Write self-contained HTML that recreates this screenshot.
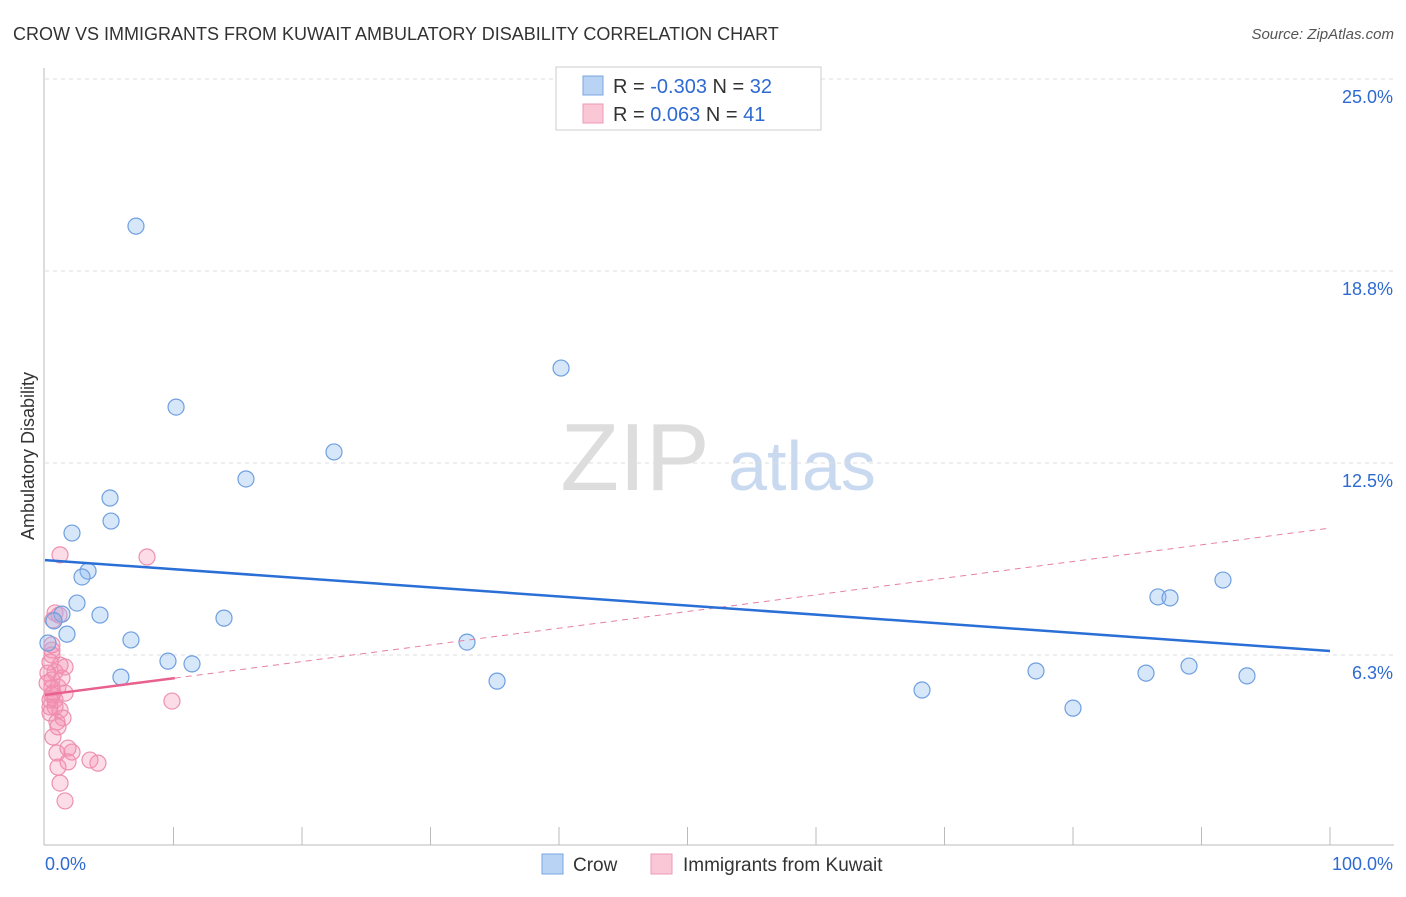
<!DOCTYPE html>
<html><head><meta charset="utf-8"><style>
body{margin:0;background:#fff;font-family:"Liberation Sans",sans-serif}
svg text{font-family:"Liberation Sans",sans-serif}
</style></head><body>
<svg id="c" width="1406" height="892" xmlns="http://www.w3.org/2000/svg">
<text x="13" y="40" font-size="18" fill="#333">CROW VS IMMIGRANTS FROM KUWAIT AMBULATORY DISABILITY CORRELATION CHART</text>
<text x="1394" y="39" font-size="15" fill="#555" text-anchor="end" font-style="italic">Source: ZipAtlas.com</text>
<text transform="translate(34,456) rotate(-90)" font-size="18" fill="#333" text-anchor="middle">Ambulatory Disability</text>
<g>
<text x="635" y="490" font-size="96" font-family="Liberation Serif" fill="#ddd" text-anchor="middle">ZIP</text>
<text x="802" y="490" font-size="70" fill="#c9d9f0" text-anchor="middle">atlas</text>
</g>
<g id="grid"></g><g id="marks"></g>
<g>
<rect x="556" y="67" width="265" height="63" fill="#fff" stroke="#ccc"/>
<rect x="583" y="76" width="20" height="19" fill="#b9d3f5" stroke="#7aa6e0"/>
<rect x="583" y="104" width="20" height="19" fill="#f9c7d6" stroke="#ee9ab5"/>
<text x="613" y="93" font-size="20" fill="#333">R = <tspan fill="#2e6ad1">-0.303</tspan>   N = <tspan fill="#2e6ad1">32</tspan></text>
<text x="613" y="121" font-size="20" fill="#333">R =  <tspan fill="#2e6ad1"> 0.063</tspan>   N =  <tspan fill="#2e6ad1">41</tspan></text>
</g>
<g>
<rect x="542" y="854" width="21" height="20" fill="#b9d3f5" stroke="#7aa6e0"/>
<text x="573" y="871" font-size="19" fill="#333">Crow</text>
<rect x="651" y="854" width="21" height="20" fill="#f9c7d6" stroke="#ee9ab5"/>
<text x="683" y="871" font-size="19" fill="#333">Immigrants from Kuwait</text>
</g>
</svg>
<script>
const crowX=[7.08,10.2,40.16,22.49,15.64,5.06,5.14,2.1,3.35,2.88,2.49,4.28,1.32,0.7,1.71,0.23,6.69,13.93,9.57,11.44,5.91,32.84,35.18,68.25,77.12,80.0,85.68,89.03,93.54,86.61,87.55,91.67];
const crowY=[20.21,14.32,15.59,12.86,11.98,11.36,10.61,10.22,8.98,8.79,7.94,7.55,7.58,7.36,6.93,6.64,6.74,7.45,6.05,5.96,5.53,6.67,5.4,5.11,5.73,4.52,5.66,5.89,5.57,8.14,8.11,8.69];
const kuwX=[1.17,7.94,0.78,1.09,0.62,0.54,0.54,1.17,1.56,0.78,1.32,0.54,0.54,1.01,1.56,0.54,0.78,0.39,1.17,1.4,0.93,1.01,0.62,0.93,1.79,2.1,1.79,1.01,3.5,4.12,1.17,1.56,9.88,0.39,0.23,0.62,0.39,0.16,0.78,0.39,0.54];
const kuwY=[9.51,9.44,7.62,7.55,7.39,6.41,6.25,5.92,5.86,5.7,5.5,5.44,5.18,5.21,5.01,4.95,4.79,4.56,4.46,4.2,4.07,3.91,3.58,3.06,3.22,3.09,2.77,2.6,2.83,2.73,2.08,1.5,4.75,6.02,5.66,5.01,4.79,5.34,4.56,4.36,6.58];
const yTicks=[6.25,12.5,18.75,25];
const yTickLabels=["6.3%","12.5%","18.8%","25.0%"];
const crowTrend=[9.34,6.38];
const kuwTrend=[4.95,10.38];
const kuwSolidEnd=10.1;
const NS="http://www.w3.org/2000/svg";
const X=v=>45+v*12.85, Y=v=>847-v*30.72;
function mk(p,t,a){const e=document.createElementNS(NS,t);for(const k in a)e.setAttribute(k,a[k]);p.appendChild(e);return e;}
const g=document.getElementById('grid'),m=document.getElementById('marks');
yTicks.forEach((t,i)=>{
 const l=mk(g,'line',{x1:45,x2:1394,y1:Y(t),y2:Y(t),stroke:'#ddd','stroke-dasharray':'4,4'});
 
 
 const tx=mk(g,'text',{x:1393,y:Y(t)+24,'font-size':18,fill:'#2e6ad1','text-anchor':'end'});tx.textContent=yTickLabels[i];
 
 
});
const ax=mk(g,'line',{x1:44,x2:44,y1:68,y2:845,stroke:'#bbb'});


const bx=mk(g,'line',{x1:44,x2:1394,y1:845,y2:845,stroke:'#bbb'});


for(let i=1;i<=10;i++){const t=mk(g,'line',{x1:X(i*10),x2:X(i*10),y1:827,y2:845,stroke:'#bbb'});
 
 }
[["0.0%",45,'start'],["100.0%",1393,'end']].forEach(a=>{const t=mk(g,'text',{x:a[1],y:870,'font-size':18,fill:'#2e6ad1','text-anchor':a[2]});t.textContent=a[0];
 
 });
kuwX.forEach((v,i)=>{const c=mk(m,'circle',{cx:X(v),cy:Y(kuwY[i]),r:8,fill:'rgba(244,143,177,0.3)',stroke:'#ee8fb0','stroke-width':1.2});
 
 });
crowX.forEach((v,i)=>{const c=mk(m,'circle',{cx:X(v),cy:Y(crowY[i]),r:8,fill:'rgba(140,185,240,0.35)',stroke:'#6f9fe0','stroke-width':1.2});
 
 });
const kd=mk(m,'line',{x1:X(kuwSolidEnd),y1:Y(kuwTrend[0]+(kuwTrend[1]-kuwTrend[0])*kuwSolidEnd/100),x2:X(100),y2:Y(kuwTrend[1]),stroke:'#e87fa3','stroke-width':1,'stroke-dasharray':'6,5'});


const ks=mk(m,'line',{x1:X(0),y1:Y(kuwTrend[0]),x2:X(kuwSolidEnd),y2:Y(kuwTrend[0]+(kuwTrend[1]-kuwTrend[0])*kuwSolidEnd/100),stroke:'#e8608e','stroke-width':2.5});


const ct=mk(m,'line',{x1:X(0),y1:Y(crowTrend[0]),x2:X(100),y2:Y(crowTrend[1]),stroke:'#2a6fd6','stroke-width':2.5});


</script>
</body></html>
